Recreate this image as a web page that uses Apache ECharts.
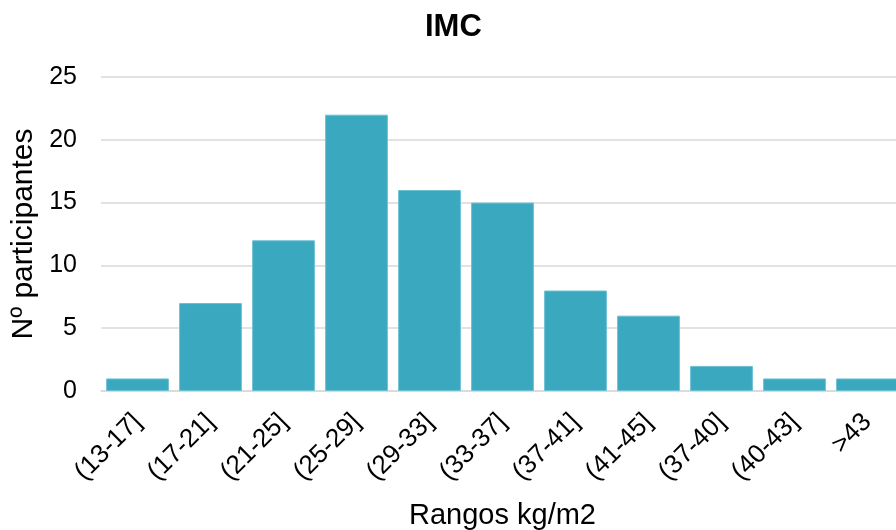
<!DOCTYPE html>
<html>
<head>
<meta charset="utf-8">
<script src="https://cdn.jsdelivr.net/npm/echarts@6/dist/echarts.min.js"></script>
<style>html,body{margin:0;padding:0;background:#fff}#c{width:896px;height:530px}</style>
</head>
<body>
<div id="c"></div>
<script>
const categories = ['(13-17]', '(17-21]', '(21-25]', '(25-29]', '(29-33]', '(33-37]', '(37-41]', '(41-45]', '(37-40]', '(40-43]', '>43'];
const participants = [1, 7, 12, 22, 16, 15, 8, 6, 2, 1, 1];
const yTicks = [0, 5, 10, 15, 20, 25];

const chart = echarts.init(document.getElementById('c'), null, {renderer: 'canvas'});
const font = 'Liberation Sans, Arial, sans-serif';
chart.setOption({
  animation: false,
  title: {
    text: 'IMC', left: 420, top: 7,
    textStyle: {fontFamily: font, fontSize: 31, fontWeight: 'bold', color: '#000'}
  },
  grid: {left: 101, top: 77, bottom: 139, width: 803, containLabel: false, outerBoundsMode: 'none'},
  xAxis: {
    type: 'category', data: categories,
    name: 'Rangos kg/m2', nameLocation: 'middle', nameGap: 110,
    nameTextStyle: {fontFamily: font, fontSize: 29, color: '#000'},
    axisLine: {lineStyle: {color: '#d9d9d9', width: 1.5}},
    axisTick: {show: false},
    axisLabel: {rotate: 45, interval: 0, fontFamily: font, fontSize: 26, color: '#000', margin: 27}
  },
  yAxis: {
    type: 'value', min: yTicks[0], max: yTicks[yTicks.length - 1], interval: 5,
    name: 'Nº participantes', nameLocation: 'middle', nameGap: 55, nameRotate: 90,
    nameTextStyle: {fontFamily: font, fontSize: 30, color: '#000'},
    axisLine: {show: false}, axisTick: {show: false},
    axisLabel: {fontFamily: font, fontSize: 25, color: '#000', margin: 24},
    splitLine: {lineStyle: {color: '#d9d9d9', width: 1.5}}
  },
  series: [{
    type: 'bar', data: participants, barCategoryGap: '14%',
    itemStyle: {color: '#3aa8bf', borderColor: '#6cc0d2', borderWidth: 1}
  }]
});
</script>
</body>
</html>
